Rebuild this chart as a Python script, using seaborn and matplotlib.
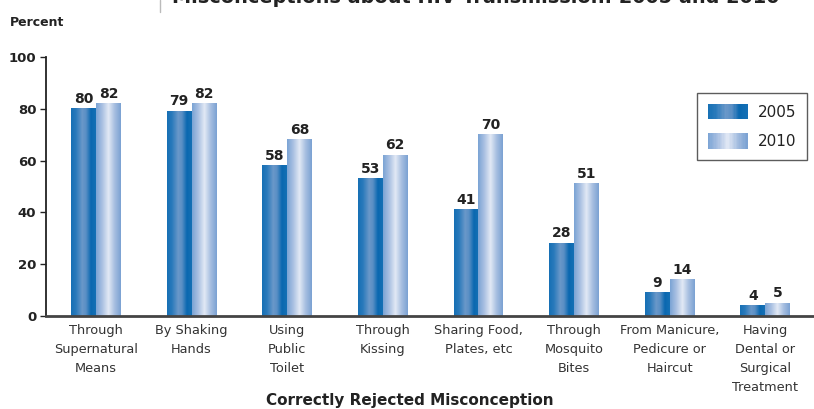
import numpy as np
import pandas as pd
import matplotlib
matplotlib.use("Agg")
import matplotlib.pyplot as plt
import seaborn as sns
from matplotlib.colors import LinearSegmentedColormap
from matplotlib.legend_handler import HandlerBase
from matplotlib.patches import Rectangle, Patch

categories = ["Through\nSupernatural\nMeans", "By Shaking\nHands", "Using\nPublic\nToilet",
              "Through\nKissing", "Sharing Food,\nPlates, etc", "Through\nMosquito\nBites",
              "From Manicure,\nPedicure or\nHaircut", "Having\nDental or\nSurgical\nTreatment"]
values_2005 = [80, 79, 58, 53, 41, 28, 9, 4]
values_2010 = [82, 82, 68, 62, 70, 51, 14, 5]
years = ["2005", "2010"]
title = "Misconceptions about HIV Transmission: 2005 and 2010"

df = pd.DataFrame({
    "cat": categories * 2,
    "year": ["2005"] * len(categories) + ["2010"] * len(categories),
    "val": values_2005 + values_2010,
})

sns.set_theme(style="white")
plt.rcParams['font.family'] = ['DejaVu Sans']

cmaps = {
    "2005": LinearSegmentedColormap.from_list("g05", [(0, "#1570b5"), (0.2, "#2a7abb"), (0.45, "#6a98c9"),
                                                      (0.6, "#5a8fc5"), (0.8, "#0a68b0"), (1, "#1570b5")]),
    "2010": LinearSegmentedColormap.from_list("g10", [(0, "#7aa3d4"), (0.25, "#a9c0e2"), (0.5, "#e2e9f5"),
                                                      (0.75, "#a6bee0"), (1, "#7aa1d2")]),
}
solid = {"2005": "#0a6cb3", "2010": "#8fb0dc"}

fig = plt.figure(figsize=(8.14, 4.09), dpi=100)
ax = fig.add_axes([46 / 814, 1 - 316 / 409, 1 - 46 / 814, (316 - 57) / 409])

sns.barplot(data=df, x="cat", y="val", hue="year", palette=solid, width=0.52,
            ax=ax, legend=False, saturation=1, order=categories, hue_order=years)

grad = np.linspace(0, 1, 256).reshape(1, -1)
bars = list(ax.patches)
n = len(categories)
for i, p in enumerate(bars):
    yr = years[i // n]
    x0, w, h = p.get_x(), p.get_width(), p.get_height()
    p.set_facecolor("none")
    p.set_edgecolor("none")
    ax.imshow(grad, cmap=cmaps[yr], extent=[x0, x0 + w, 0, h], aspect="auto", zorder=2)
    ax.text(x0 + w / 2, h + 1.2, f"{int(h)}", ha="center", va="bottom", fontsize=10,
            fontweight="bold", color="#222222", zorder=3)

ax.set_xlim(-0.523, 7.51)
ax.set_ylim(0, 100)
ax.set_yticks([0, 20, 40, 60, 80, 100])
ax.set_yticklabels(["0", "20", "40", "60", "80", "100"], fontweight="bold", fontsize=9.5, color="#222222")
ax.tick_params(axis="y", left=True, length=4, width=1, color="#222222", pad=3)
ax.tick_params(axis="x", bottom=False, pad=0)
for lbl in ax.get_xticklabels():
    lbl.set_fontsize(9.3)
    lbl.set_color("#333333")
    lbl.set_linespacing(1.6)
    lbl.set_va("top")

for s in ["top", "right"]:
    ax.spines[s].set_visible(False)
ax.spines["left"].set_color("#222222")
ax.spines["left"].set_linewidth(1.3)
ax.spines["bottom"].set_color("#444444")
ax.spines["bottom"].set_linewidth(2)
ax.set_xlabel("")
ax.set_ylabel("")

fig.text(10 / 814, 1 - 22 / 409, "Percent", fontsize=9, fontweight="bold", color="#222222", va="center")
fig.text(410 / 814, 1 - 401 / 409, "Correctly Rejected Misconception", fontsize=11, fontweight="bold",
         color="#222222", ha="center", va="center")
fig.text(476 / 814, 1 - 3 / 409, title, fontsize=13.9, fontweight="bold", color="#222222",
         ha="center", va="baseline")
fig.add_artist(plt.Line2D([160 / 814, 160 / 814], [1 - 12 / 409, 1.0], color="#bbbbbb", lw=1,
                          transform=fig.transFigure))


class GradHandler(HandlerBase):
    def create_artists(self, legend, orig_handle, xdescent, ydescent, width, height, fontsize, trans):
        cm = cmaps[orig_handle.get_label()]
        arts = []
        k = 30
        for j in range(k):
            r = Rectangle((-xdescent + width * j / k, -ydescent), width / k + 0.3, height,
                          facecolor=cm((j + 0.5) / k), edgecolor="none", transform=trans)
            arts.append(r)
        return arts


handles = [Patch(label=y) for y in years]
leg = ax.legend(handles=handles, labels=years, handler_map={Patch: GradHandler()},
                loc="upper left", bbox_to_anchor=((697 - 46) / 768, 1 - (93 - 57) / 259),
                frameon=True, fancybox=False, fontsize=11, handlelength=2.6, handleheight=1.2,
                borderpad=0.7, labelspacing=0.9, handletextpad=0.7, borderaxespad=0)
leg.get_frame().set_edgecolor("#333333")
leg.get_frame().set_linewidth(1)
for t in leg.get_texts():
    t.set_color("#222222")

fig.savefig("out.png", dpi=100)
